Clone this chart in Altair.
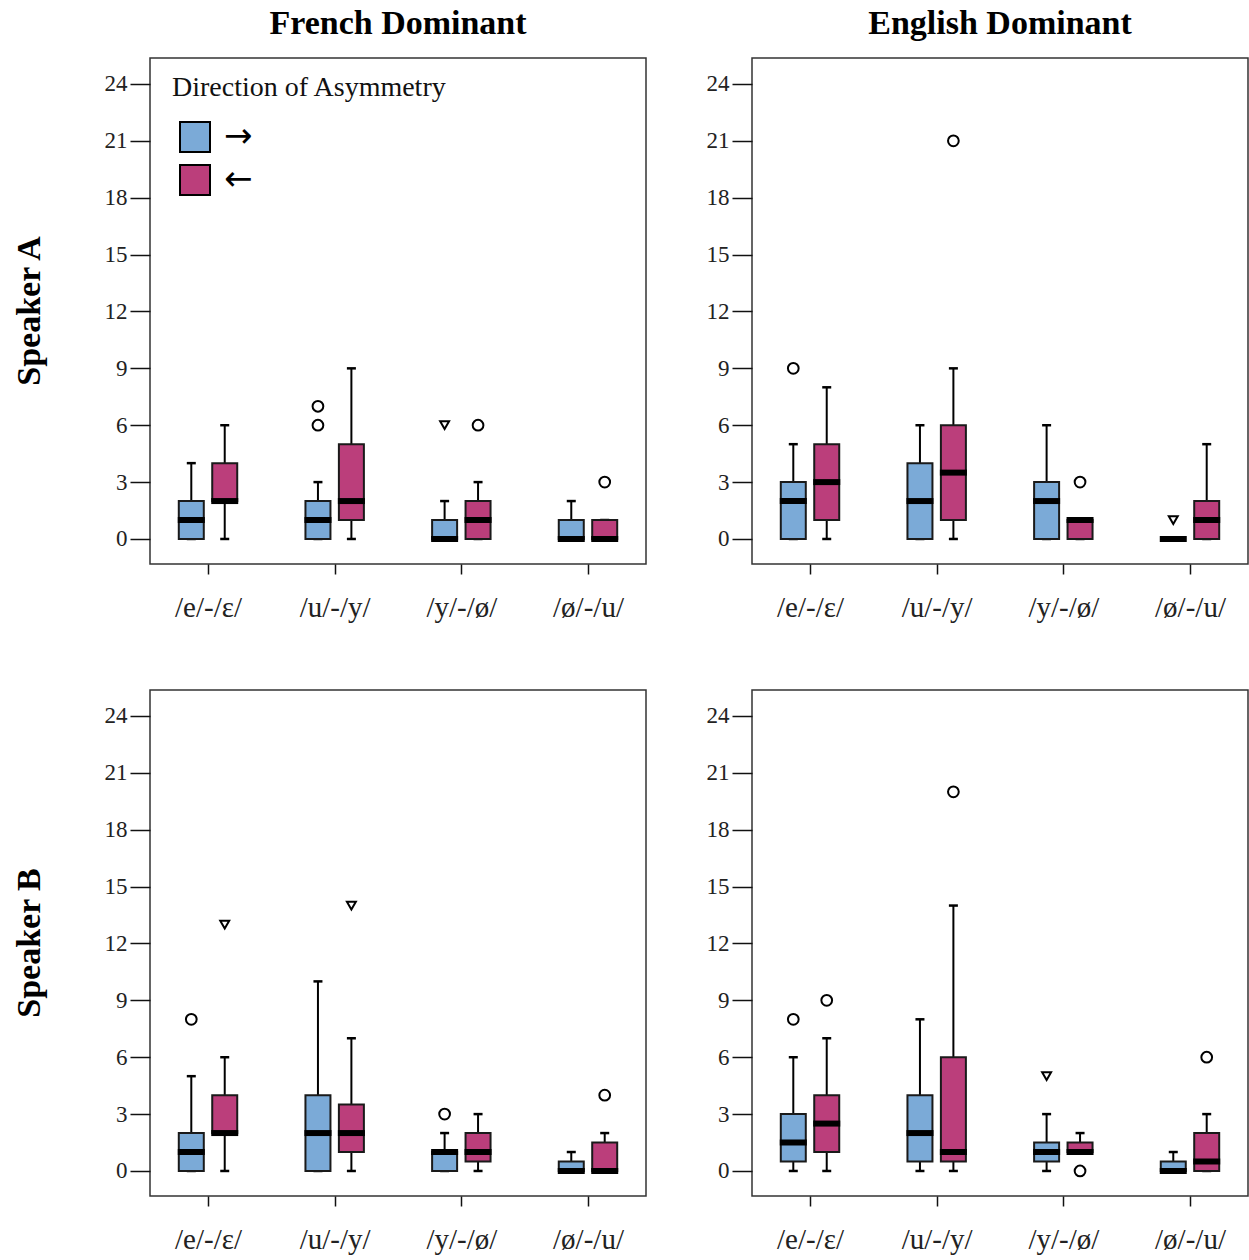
import json
import altair as alt
import pandas as pd

# ---------------- data ----------------
categories = ["/e/-/ɛ/", "/u/-/y/", "/y/-/ø/", "/ø/-/u/"]
directions = ["→", "←"]
groups = ["French Dominant", "English Dominant"]
speakers = ["Speaker A", "Speaker B"]

# order per panel: [cat0 →, cat0 ←, cat1 →, cat1 ←, ...]
fr_a_low = [0, 0, 0, 0, 0, 0, 0, 0]
fr_a_q1 = [0, 2, 0, 1, 0, 0, 0, 0]
fr_a_med = [1, 2, 1, 2, 0, 1, 0, 0]
fr_a_q3 = [2, 4, 2, 5, 1, 2, 1, 1]
fr_a_high = [4, 6, 3, 9, 2, 3, 2, 1]

en_a_low = [0, 0, 0, 0, 0, 0, 0, 0]
en_a_q1 = [0, 1, 0, 1, 0, 0, 0, 0]
en_a_med = [2, 3, 2, 3.5, 2, 1, 0, 1]
en_a_q3 = [3, 5, 4, 6, 3, 1, 0, 2]
en_a_high = [5, 8, 6, 9, 6, 1, 0, 5]

fr_b_low = [0, 0, 0, 0, 0, 0, 0, 0]
fr_b_q1 = [0, 2, 0, 1, 0, 0.5, 0, 0]
fr_b_med = [1, 2, 2, 2, 1, 1, 0, 0]
fr_b_q3 = [2, 4, 4, 3.5, 1, 2, 0.5, 1.5]
fr_b_high = [5, 6, 10, 7, 2, 3, 1, 2]

en_b_low = [0, 0, 0, 0, 0, 1, 0, 0]
en_b_q1 = [0.5, 1, 0.5, 0.5, 0.5, 1, 0, 0]
en_b_med = [1.5, 2.5, 2, 1, 1, 1, 0, 0.5]
en_b_q3 = [3, 4, 4, 6, 1.5, 1.5, 0.5, 2]
en_b_high = [6, 7, 8, 14, 3, 2, 1, 3]

# outliers: (category index, direction index, value, kind)
fr_a_out = [(1, 0, 6, "o"), (1, 0, 7, "o"), (2, 0, 6, "x"), (2, 1, 6, "o"), (3, 1, 3, "o")]
en_a_out = [(0, 0, 9, "o"), (1, 1, 21, "o"), (2, 1, 3, "o"), (3, 0, 1, "x")]
fr_b_out = [(0, 0, 8, "o"), (0, 1, 13, "x"), (1, 1, 14, "x"), (2, 0, 3, "o"), (3, 1, 4, "o")]
en_b_out = [(0, 0, 8, "o"), (0, 1, 9, "o"), (1, 1, 20, "o"), (2, 0, 5, "x"), (2, 1, 0, "o"), (3, 1, 6, "o")]

panels = [
    ("French Dominant", "Speaker A", fr_a_low, fr_a_q1, fr_a_med, fr_a_q3, fr_a_high, fr_a_out),
    ("English Dominant", "Speaker A", en_a_low, en_a_q1, en_a_med, en_a_q3, en_a_high, en_a_out),
    ("French Dominant", "Speaker B", fr_b_low, fr_b_q1, fr_b_med, fr_b_q3, fr_b_high, fr_b_out),
    ("English Dominant", "Speaker B", en_b_low, en_b_q1, en_b_med, en_b_q3, en_b_high, en_b_out),
]

OFF = 0.132
rows = []
for g, s, lo, q1, md, q3, hi, outs in panels:
    for i in range(8):
        ci, di = i // 2, i % 2
        rows.append(dict(group=g, speaker=s, kind="box", dir=directions[di],
                         xpos=ci + (OFF if di else -OFF),
                         low=lo[i], q1=q1[i], med=md[i], q3=q3[i], high=hi[i]))
    for ci, di, v, k in outs:
        rows.append(dict(group=g, speaker=s, kind="out", dir=directions[di],
                         xpos=ci + (OFF if di else -OFF), value=v,
                         shape="circle" if k == "o" else "triangle"))
df = pd.DataFrame(rows)

FONT = "Liberation Serif"
BLUE = "#7BAAD7"
PINK = "#BB3E7B"

lab_expr = json.dumps(categories) + "[datum.value]"
xscale = alt.Scale(domain=[-0.458, 3.458], nice=False, zero=False, padding=0)
yscale = alt.Scale(domain=[-1.32, 25.37], nice=False, zero=False, padding=0)
xaxis = alt.Axis(values=[0, 1, 2, 3], labelExpr=lab_expr, grid=False, domain=False,
                 tickSize=10, tickColor="#111", tickWidth=1.5, labelFontSize=29,
                 labelPadding=19, labelColor="#222", labelFont=FONT, title=None)
yaxis = alt.Axis(values=list(range(0, 25, 3)), grid=False, domain=False,
                 tickSize=20, tickColor="#111", tickWidth=1.5, labelFontSize=23,
                 labelPadding=3, labelColor="#222", labelFont=FONT, title=None)

X = alt.X("xpos:Q", scale=xscale, axis=xaxis)
base = alt.Chart().transform_filter("datum.kind == 'box'")

whisk = base.mark_rule(color="black", strokeWidth=2, opacity=1).encode(
    x=X, y=alt.Y("low:Q", scale=yscale, axis=yaxis), y2="high:Q")
cap_lo = base.mark_tick(orient="horizontal", size=9, thickness=2.5, color="black", opacity=1).encode(
    x=X, y=alt.Y("low:Q", scale=yscale, axis=yaxis))
cap_hi = base.mark_tick(orient="horizontal", size=9, thickness=2.5, color="black", opacity=1).encode(
    x=X, y=alt.Y("high:Q", scale=yscale, axis=yaxis))
box = base.mark_bar(size=25, stroke="#1a1a1a", strokeWidth=2, opacity=1).encode(
    x=X, y=alt.Y("q1:Q", scale=yscale, axis=yaxis), y2="q3:Q",
    color=alt.Color("dir:N", scale=alt.Scale(domain=directions, range=[BLUE, PINK]),
                    legend=alt.Legend(title="Direction of Asymmetry", orient="none",
                                      legendX=22, legendY=16,
                                      symbolType="square", symbolSize=900,
                                      symbolStrokeColor="black", symbolStrokeWidth=2,
                                      symbolOpacity=1, symbolOffset=6,
                                      labelFontSize=34, labelFont="DejaVu Sans",
                                      labelColor="black", labelLimit=200,
                                      titleFontSize=28, titleFont=FONT, titleFontWeight="normal",
                                      titleColor="#111", titlePadding=18, titleLimit=500,
                                      rowPadding=5, labelOffset=12)))
med = base.mark_tick(orient="horizontal", size=27, thickness=6, color="black", opacity=1).encode(
    x=X, y=alt.Y("med:Q", scale=yscale, axis=yaxis))
outl = alt.Chart().transform_filter("datum.kind == 'out'").mark_point(
    filled=False, stroke="black", fill="white", strokeWidth=2, opacity=1).encode(
    x=X, y=alt.Y("value:Q", scale=yscale, axis=yaxis),
    shape=alt.Shape("shape:N", scale=alt.Scale(domain=["circle", "triangle"],
                                               range=["circle", "triangle-down"]), legend=None),
    size=alt.Size("shape:N", scale=alt.Scale(domain=["circle", "triangle"], range=[115, 80]),
                  legend=None))

layer = alt.layer(whisk, cap_lo, cap_hi, box, med, outl).properties(width=496, height=506)

chart = layer.facet(
    data=df,
    row=alt.Row("speaker:N", sort=speakers, title=None,
                header=alt.Header(labelAngle=-90, labelOrient="left", labelFontSize=34,
                                  labelFont=FONT, labelFontWeight="bold", labelColor="black",
                                  labelPadding=86)),
    column=alt.Column("group:N", sort=groups, title=None,
                      header=alt.Header(labelFontSize=34, labelFont=FONT, labelFontWeight="bold",
                                        labelColor="black", labelPadding=17)),
    spacing={"row": 126, "column": 106},
).properties(bounds="flush", padding={"left": 13, "top": 7, "right": 0, "bottom": 0}
).resolve_axis(x="independent", y="independent"
).configure_view(stroke="#333", strokeWidth=1.5)

chart.save("out.html", embed_options={"renderer": "svg", "actions": False})
